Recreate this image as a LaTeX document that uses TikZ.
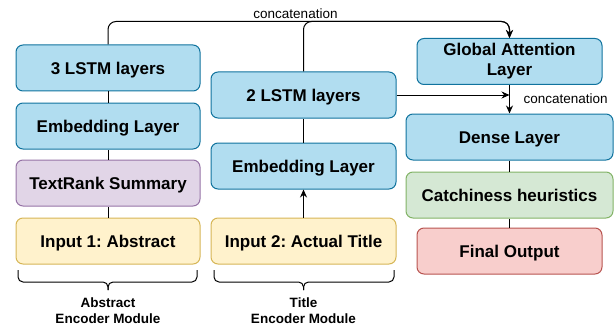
\documentclass[tikz,border=0pt]{standalone}
\usepackage{fontspec}
\setmainfont{Liberation Sans}
\usetikzlibrary{arrows.meta}

\definecolor{blueF}{HTML}{B1DDF0}\definecolor{blueD}{HTML}{10739E}
\definecolor{purpF}{HTML}{E1D5E7}\definecolor{purpD}{HTML}{9673A6}
\definecolor{yelF}{HTML}{FFF2CC}\definecolor{yelD}{HTML}{D6B656}
\definecolor{grnF}{HTML}{D5E8D4}\definecolor{grnD}{HTML}{82B366}
\definecolor{redF}{HTML}{F8CECC}\definecolor{redD}{HTML}{B85450}

\begin{document}
\frenchspacing
\begin{tikzpicture}[x=1pt,y=-1pt,
  box/.style={draw, rounded corners=7pt, line width=1pt, inner sep=0pt,
    minimum height=46pt, align=center,
    font=\fontsize{17}{20}\selectfont\bfseries},
  oneline/.style={box, text height=12.2pt, text depth=0pt},
  bluebox/.style={oneline, fill=blueF, draw=blueD},
  purpbox/.style={oneline, fill=purpF, draw=purpD},
  yelbox/.style={oneline, fill=yelF, draw=yelD},
  grnbox/.style={oneline, fill=grnF, draw=grnD},
  redbox/.style={oneline, fill=redF, draw=redD},
  conn/.style={draw, line width=1pt, black},
  arr/.style={conn, -{Stealth[length=8pt,width=7pt]}},
  lbl/.style={font=\fontsize{13.5}{15}\selectfont},
  bracetext/.style={align=center, font=\fontsize{13.5}{15.6}\selectfont\bfseries},
  bracket/.style={draw, line width=1pt, rounded corners=5pt}]

\useasboundingbox (0,0) rectangle (616,329);

% abstract encoder column
\node[bluebox, minimum width=184pt] (lstmA) at (108,68) {3 LSTM layers};
\node[bluebox, minimum width=184pt] (embA) at (108,126) {Embedding Layer};
\node[purpbox, minimum width=184pt] (trA) at (108,183) {TextRank Summary};
\node[yelbox, minimum width=184pt] (inA) at (108,241) {Input 1: Abstract};

% title encoder column
\node[bluebox, minimum width=185pt] (lstmT) at (303.5,95) {2 LSTM layers};
\node[bluebox, minimum width=185pt] (embT) at (303.5,166) {Embedding Layer};
\node[yelbox, minimum width=185pt] (inT) at (303.5,241) {Input 2: Actual Title};

% decoder column
\node[box, fill=blueF, draw=blueD, minimum width=185pt] (gatt) at (509.5,61.5) {Global Attention\\Layer};
\node[bluebox, minimum width=207pt] (dense) at (509.5,137) {Dense Layer};
\node[grnbox, minimum width=207pt] (catch) at (509.5,195) {Catchiness heuristics};
\node[redbox, minimum width=185pt] (final) at (509.5,251) {Final Output};

% connections
\path[conn] (inA) -- (trA);
\path[conn] (trA) -- (embA);
\path[conn] (embA) -- (lstmA);
\path[arr] (inT) -- (embT);
\path[conn] (embT) -- (lstmT);

\path[arr, rounded corners=8pt] (lstmA.north) -- ++(0,-23) -| (gatt.north);
\path[arr, rounded corners=8pt] (lstmT.north) -- ++(0,-50) -| (gatt.north);
\node[lbl] (catTop) at (295.5,14) {concatenation};

\coordinate (merge) at (gatt.south |- lstmT.east);
\path[arr] (lstmT.east) -- (merge);
\path[arr] (gatt) -- (dense);
\node[lbl, anchor=west] (catMid) at (520,99) {concatenation};

\path[conn] (dense) -- (catch);
\path[conn] (catch) -- (final);

% module braces
\path[bracket] (18,270) |- (108,282) -- (108,290);
\path[bracket] (197,270) |- (108,282) -- (108,290);
\path[bracket] (214,270) |- (303.5,282) -- (303.5,290);
\path[bracket] (394,270) |- (303.5,282) -- (303.5,290);

\node[bracetext] (modA) at (108,310.5) {Abstract\\Encoder Module};
\node[bracetext] (modT) at (303.5,310.5) {Title\\Encoder Module};
\end{tikzpicture}
\end{document}
